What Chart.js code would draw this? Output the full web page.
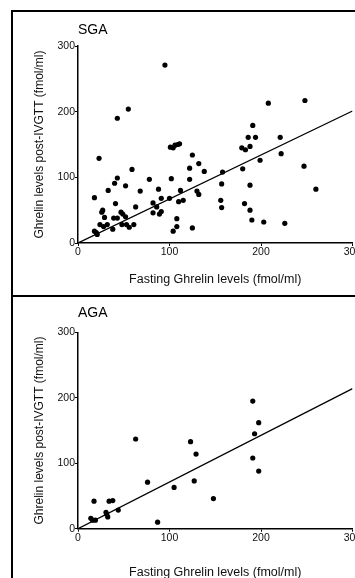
<!DOCTYPE html>
<html>
<head>
<meta charset="utf-8">
<script src="https://cdn.jsdelivr.net/npm/chart.js@4"></script>
<style>
  html, body { margin: 0; padding: 0; background: #fff; }
  body { width: 355px; height: 578px; overflow: hidden; position: relative; }
  .wrap { position: absolute; left: 0; }
  .rule { position: absolute; background: #000; z-index: 2; }
</style>
</head>
<body>
<div class="rule" style="left:11px;top:10px;width:344px;height:2px"></div>
<div class="rule" style="left:11px;top:10px;width:2px;height:568px"></div>
<div class="rule" style="left:11px;top:295px;width:344px;height:2px"></div>

<div class="wrap" style="top:0"><canvas id="sgaChart" width="370" height="296"></canvas></div>
<div class="wrap" style="top:298px"><canvas id="agaChart" width="370" height="290"></canvas></div>

<script>
// Axis ticks shared by both panels
const axisTicks = [0, 100, 200, 300];

// SGA: fasting ghrelin (x) vs ghrelin post-IVGTT (y), fmol/ml
const sgaFasting = [18, 23, 18, 20, 21, 27, 26, 29, 24, 28, 32, 33, 38, 39, 41, 40, 43, 43, 47, 49,
  48, 52, 53, 56, 52, 59, 61, 63, 68, 78, 82, 82, 86, 88, 89, 91, 91, 100, 102, 101,
  104, 106, 109, 111, 104, 108, 108, 110, 112, 115, 122, 122, 125, 125, 132, 130, 132, 138, 158, 157,
  156, 157, 180, 179, 183, 188, 186, 194, 191, 188, 182, 188, 190, 203, 199, 208, 221, 222, 226, 248,
  247, 260, 95, 55, 43];
const sgaPost = [69, 129, 18, 16, 13, 50, 47, 39, 28, 25, 28, 80, 21, 38, 60, 91, 99, 38, 47, 44,
  28, 40, 28, 24, 87, 112, 28, 55, 79, 97, 46, 61, 55, 82, 44, 48, 68, 68, 98, 146,
  145, 149, 150, 151, 18, 25, 37, 63, 80, 65, 97, 114, 134, 23, 121, 79, 74, 109, 108, 90,
  65, 54, 113, 145, 142, 147, 161, 161, 179, 88, 60, 50, 35, 32, 126, 213, 161, 136, 30, 217,
  117, 82, 271, 204, 190];

// AGA
const agaFasting = [14, 16, 19, 17.5, 30.6, 31.4, 32.5, 34, 38, 44, 63, 76, 87, 105, 123, 129, 127, 148, 191, 193, 191, 197.5, 197.5];
const agaPost = [16, 13, 13, 42, 25, 22, 18, 42, 43, 28.5, 137, 71, 10, 63, 133, 114, 73, 46, 195, 145, 108, 162, 88];

// Regression lines through the origin
const fitX = [0, 300];
const sgaFitY = [0, 201];
const agaFitY = [0, 214];

const FONT = '"Liberation Sans", Arial, Helvetica, sans-serif';

function toPoints(xs, ys) {
  return xs.map((x, i) => ({ x, y: ys[i] }));
}

function makeChart(id, name, fasting, post, fitY, geo) {
  return new Chart(document.getElementById(id), {
    type: 'scatter',
    data: {
      datasets: [
        {
          type: 'line',
          data: toPoints(fitX, fitY),
          borderColor: '#000',
          borderWidth: 1.3,
          pointRadius: 0,
          fill: false,
        },
        {
          data: toPoints(fasting, post),
          backgroundColor: '#000',
          borderColor: '#000',
          pointRadius: 2.6,
          pointBorderWidth: 0,
        }
      ]
    },
    options: {
      responsive: false,
      animation: false,
      devicePixelRatio: 1,
      layout: { padding: { top: geo.padTop, left: 0, right: 17.5, bottom: 0 } },
      plugins: {
        legend: { display: false },
        tooltip: { enabled: false },
        title: {
          display: true,
          text: name,
          align: 'start',
          fullSize: false,
          color: '#000',
          font: { family: FONT, size: 14, weight: 'normal' },
          padding: { top: geo.titleTop, bottom: geo.titleBottom },
        },
      },
      scales: {
        x: {
          type: 'linear',
          min: 0,
          max: 300,
          afterBuildTicks: s => { s.ticks = axisTicks.map(v => ({ value: v })); },
          afterFit: s => { s.height = geo.xBox; },
          ticks: { color: '#111', padding: 0, font: { family: FONT, size: 10.5 } },
          grid: { drawOnChartArea: false, drawTicks: true, tickLength: 3, color: '#000' },
          border: { display: true, color: '#000', width: 1.5 },
          title: {
            display: true,
            text: 'Fasting Ghrelin levels (fmol/ml)',
            color: '#111',
            font: { family: FONT, size: 12.5 },
            padding: { top: geo.xTitlePad, bottom: geo.xTitlePad },
          },
        },
        y: {
          type: 'linear',
          min: 0,
          max: 300,
          afterBuildTicks: s => { s.ticks = axisTicks.map(v => ({ value: v })); },
          afterFit: s => { s.width = 78; },
          ticks: { color: '#111', padding: 0, font: { family: FONT, size: 10.5 } },
          grid: { drawOnChartArea: false, drawTicks: true, tickLength: 3, color: '#000' },
          border: { display: true, color: '#000', width: 1.5 },
          title: {
            display: true,
            text: 'Ghrelin levels post-IVGTT (fmol/ml)',
            color: '#111',
            font: { family: FONT, size: 12 },
            padding: { top: 32.8, bottom: 32.8 },
          },
        },
      },
    },
  });
}

makeChart('sgaChart', 'SGA', sgaFasting, sgaPost, sgaFitY,
  { padTop: 12, titleTop: 9.4, titleBottom: 7.8, xBox: 53, xTitlePad: 9.2 });
makeChart('agaChart', 'AGA', agaFasting, agaPost, agaFitY,
  { padTop: 0, titleTop: 6.6, titleBottom: 10.9, xBox: 59.3, xTitlePad: 7.5 });
</script>
</body>
</html>
